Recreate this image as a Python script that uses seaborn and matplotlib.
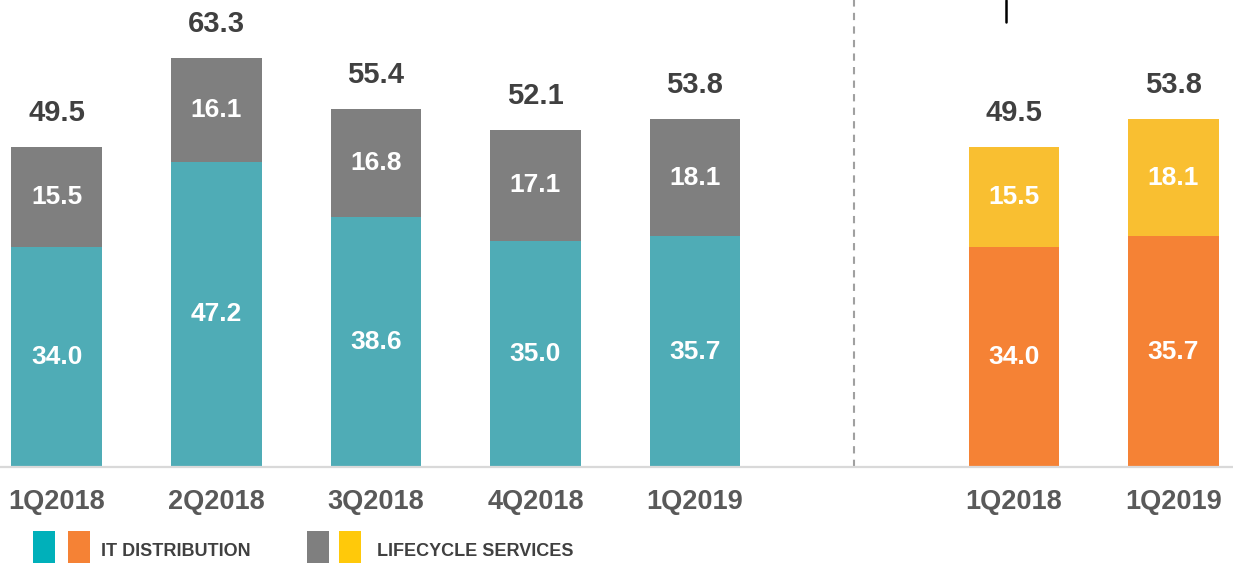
import matplotlib
matplotlib.use('Agg')
import matplotlib.pyplot as plt
from matplotlib.patches import Rectangle
import pandas as pd
import seaborn as sns

# Data
periods = ['1Q2018', '2Q2018', '3Q2018', '4Q2018', '1Q2019', '1Q2018', '1Q2019']
positions = [0, 1, 2, 3, 4, 6, 7]
it_distribution = [34.0, 47.2, 38.6, 35.0, 35.7, 34.0, 35.7]
lifecycle_services = [15.5, 16.1, 16.8, 17.1, 18.1, 15.5, 18.1]
totals = [49.5, 63.3, 55.4, 52.1, 53.8, 49.5, 53.8]
panel = ['quarterly'] * 5 + ['yoy'] * 2

df = pd.DataFrame({'period': periods, 'pos': positions, 'it': it_distribution,
                   'ls': lifecycle_services, 'total': totals, 'panel': panel})

sns.set_theme(style='white')
plt.rcParams['font.family'] = ['Liberation Sans', 'DejaVu Sans']
plt.rcParams['font.weight'] = 'bold'

fig = plt.figure(figsize=(12.33, 5.63), dpi=100)
ax = fig.add_axes([0, 96 / 563, 1, 467 / 563])

# stacked bars: draw totals first (top segment colour), then the bottom segment over it
sns.barplot(data=df, x='pos', y='total', hue='panel', native_scale=True, dodge=False,
            palette={'quarterly': '#7f7f7f', 'yoy': '#f9bf31'}, width=0.57,
            saturation=1, linewidth=0, legend=False, ax=ax)
sns.barplot(data=df, x='pos', y='it', hue='panel', native_scale=True, dodge=False,
            palette={'quarterly': '#4facb6', 'yoy': '#f58235'}, width=0.57,
            saturation=1, linewidth=0, legend=False, ax=ax)

for _, r in df.iterrows():
    ax.text(r['pos'], r['it'] / 2, f"{r['it']:.1f}", ha='center', va='center',
            color='white', fontsize=19, fontweight='bold')
    ax.text(r['pos'], r['it'] + r['ls'] / 2, f"{r['ls']:.1f}", ha='center', va='center',
            color='white', fontsize=19, fontweight='bold')
    ax.annotate(f"{r['total']:.1f}", (r['pos'], r['total']), xytext=(0, 24.5),
                textcoords='offset points', ha='center', va='center',
                color='#404040', fontsize=21, fontweight='bold')

# divider between the two panels
ax.axvline(5, color='#a0a0a0', lw=1.5, ls=(0, (3.5, 3)))
ax.plot([5.95, 5.95], [68.8, 72.2], color='black', lw=1.8)

ax.set_xlim(-0.357, 7.373)
ax.set_ylim(0, 72.2)
ax.set_xticks(positions)
ax.set_xticklabels(periods)
ax.tick_params(axis='x', length=0, pad=16, labelsize=19.5, labelcolor='#595959')
ax.set_yticks([])
ax.set_xlabel('')
ax.set_ylabel('')
for s in ['left', 'top', 'right']:
    ax.spines[s].set_visible(False)
ax.spines['bottom'].set_color('#d9d9d9')
ax.spines['bottom'].set_linewidth(1.6)
for lbl in ax.get_xticklabels():
    lbl.set_fontweight('bold')

# legend drawn at the bottom of the figure
W, H = 1233, 563
for x0, c in [(33, '#00b0ba'), (68, '#f58235'), (307, '#7f7f7f'), (339, '#ffc90a')]:
    fig.add_artist(Rectangle((x0 / W, 0), 22 / W, 32 / H, transform=fig.transFigure,
                             color=c, lw=0))
fig.text(101 / W, 11 / H, 'IT DISTRIBUTION', ha='left', va='center', fontsize=13,
         fontweight='bold', color='#404040')
fig.text(377 / W, 11 / H, 'LIFECYCLE SERVICES', ha='left', va='center', fontsize=13,
         fontweight='bold', color='#404040')

fig.savefig('out.png', dpi=100)
